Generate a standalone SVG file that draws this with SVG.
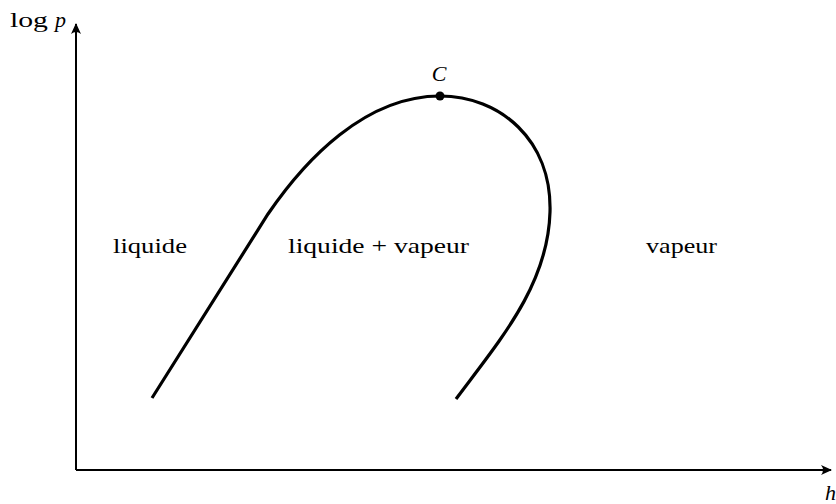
<svg xmlns="http://www.w3.org/2000/svg" width="836" height="504" viewBox="0 0 836 504">
<style>
text{font-family:"Liberation Serif","DejaVu Serif",serif;font-size:22px;fill:#000}
.ax{stroke:#000;stroke-width:2;fill:none}
.cv{stroke:#000;stroke-width:3.2;fill:none;stroke-linecap:butt}
</style>
<defs>
<marker id="arr" markerWidth="12" markerHeight="10" refX="10" refY="5" orient="auto" markerUnits="userSpaceOnUse">
<path d="M0,0 Q4,5 0,10 L11,5 Z" fill="#000"/>
</marker>
</defs>
<rect width="836" height="504" fill="#fff"/>
<g id="connectors">
<path class="ax" d="M76,470 L76,24" marker-end="url(#arr)"/>
<path class="ax" d="M76,470 L831,470" marker-end="url(#arr)"/>
<path class="cv" d="M152,398 L268,214 C305,160 365,96 440,96 C500,96 552,140 550,212 C548,285 500,340 456,399"/>
</g>
<g id="C"><circle cx="440" cy="96" r="4.5" fill="#000"/><text x="439" y="81" text-anchor="middle" font-style="italic">C</text></g>
<g id="ylabel"><text x="10" y="27"><tspan textLength="38" lengthAdjust="spacingAndGlyphs">log</tspan><tspan x="55" font-style="italic">p</tspan></text></g>
<g id="xlabel"><text x="825" y="500" font-style="italic">h</text></g>
<g id="liquide"><text x="113" y="253" textLength="74" lengthAdjust="spacingAndGlyphs">liquide</text></g>
<g id="mix"><text x="288" y="253" textLength="181" lengthAdjust="spacingAndGlyphs">liquide + vapeur</text></g>
<g id="vapeur"><text x="646" y="253" textLength="71" lengthAdjust="spacingAndGlyphs">vapeur</text></g>
</svg>
